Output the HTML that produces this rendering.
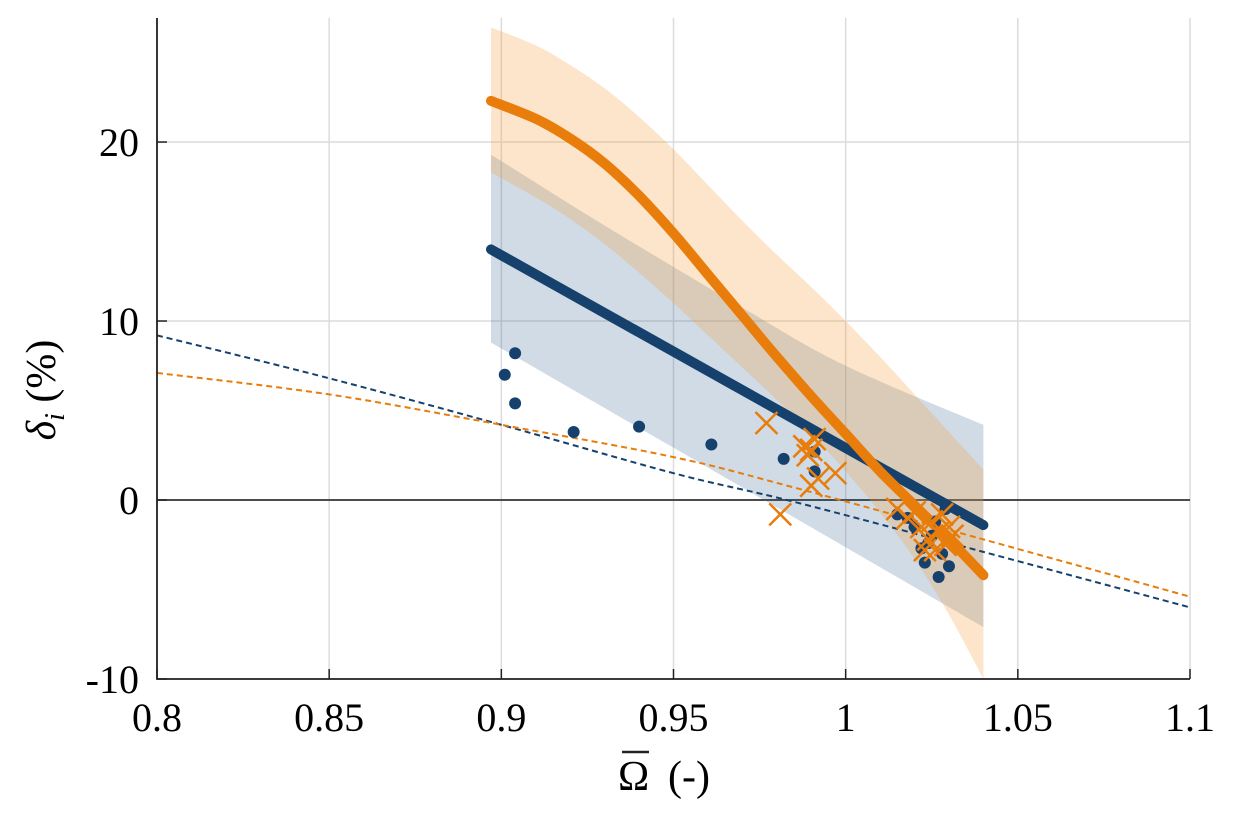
<!DOCTYPE html>
<html><head><meta charset="utf-8"><style>
html,body{margin:0;padding:0;background:#fff;}
svg{display:block;font-family:"Liberation Serif","DejaVu Serif",serif;}
</style></head><body>
<svg id="chart" width="1233" height="821" viewBox="0 0 1233 821" xmlns="http://www.w3.org/2000/svg">
<g id="grid"></g>
<g id="bands"></g>
<g id="lines"></g>
<g id="marks"></g>
<g id="axes"></g>
<g>
<text x="618" y="790" font-size="42">Ω</text>
<line x1="622" x2="649" y1="752" y2="752" stroke="#222" stroke-width="2.5"/>
<text x="668" y="790" font-size="42">(-)</text>
</g>
<text transform="translate(55,390) rotate(-90)" font-size="42" text-anchor="middle"><tspan font-style="italic">δ</tspan><tspan font-style="italic" font-size="28" dy="9">i</tspan><tspan dy="-9"> (%)</tspan></text>
</svg>
<script>
const xTicks=[0.8,0.85,0.9,0.95,1,1.05,1.1];
const xTickLabels=["0.8","0.85","0.9","0.95","1","1.05","1.1"];
const yTicks=[-10,0,10,20];
const yTickLabels=["-10","0","10","20"];
const orangeX=[0.897,0.91,0.92,0.93,0.94,0.95,0.96,0.97,0.98,0.99,1.0,1.01,1.02,1.03,1.04];
const orangeY=[22.3,21.3,20.2,18.8,17.0,14.9,12.6,10.3,8.0,5.8,3.7,1.6,-0.3,-2.2,-4.2];
const orangeBandX=[0.897,0.91,0.92,0.93,0.94,0.95,0.96,0.97,0.98,0.99,1.0,1.01,1.02,1.03,1.04];
const orangeUpper=[26.4,25.4,24.3,23.0,21.4,19.6,17.6,15.6,13.7,11.9,10.0,8.0,5.9,3.8,1.7];
const orangeLower=[18.3,16.9,15.7,14.3,12.7,11.0,9.2,7.4,5.6,3.7,1.6,-0.7,-3.3,-6.4,-10];
const blueX=[0.897,1.04];
const blueY=[14.0,-1.4];
const blueBandX=[0.897,0.9286,0.9713,1.0,1.04];
const blueUpper=[19.3,15.5,10.6,7.5,4.2];
const blueBandLX=[0.897,0.97,1.04];
const blueLower=[8.8,0.7,-7.1];
const dashX=[0.8,0.85,0.9,0.95,0.985,1.04,1.1];
const blueDashY=[9.2,6.8,4.2,1.5,-0.1,-2.9,-6.0];
const orangeDashY=[7.1,5.9,4.2,2.4,0.7,-2.2,-5.4];
const dotX=[0.901,0.904,0.904,0.921,0.940,0.961,0.982,0.991,0.991,1.015,1.020,1.022,1.023,1.025,1.027,1.028,1.030,1.029,1.026,1.018,1.024];
const dotY=[7.0,8.2,5.4,3.8,4.1,3.1,2.3,2.7,1.6,-0.8,-1.5,-2.7,-3.5,-2.0,-4.3,-3.0,-3.7,-0.5,-1.2,-1.0,-2.4];
const crossX=[0.977,0.981,0.988,0.990,0.991,0.989,0.992,0.997,0.990,1.015,1.018,1.020,1.022,1.024,1.025,1.026,1.027,1.029,1.030,1.031,1.028,1.023];
const crossY=[4.3,-0.8,3.0,2.8,3.4,2.5,1.2,1.5,0.8,-0.5,-1.0,-0.7,-1.5,-2.2,-1.2,-2.8,-1.8,-2.5,-1.5,-2.0,-0.8,-2.8];

const X0=157,X1=1190,Y0=679,Y1=18;
const xMin=0.8,xMax=1.1,yMin=-10,yMax=26.93;
const sx=v=>X0+(v-xMin)/(xMax-xMin)*(X1-X0);
const sy=v=>Y0-(v-yMin)/(yMax-yMin)*(Y0-Y1);
const NS="http://www.w3.org/2000/svg";
function mk(tag,parent,attrs){const e=document.createElementNS(NS,tag);for(const k in attrs)e.setAttribute(k,attrs[k]);document.getElementById(parent).appendChild(e);return e;}
function P(xs,ys){return xs.map((x,i)=>[sx(x),sy(ys[i])]);}
function smooth(p,start){
  let d=start?`M${p[0][0]},${p[0][1]}`:`L${p[0][0]},${p[0][1]}`;
  for(let i=0;i<p.length-1;i++){
    const p0=p[Math.max(0,i-1)],p1=p[i],p2=p[i+1],p3=p[Math.min(p.length-1,i+2)];
    const c1=[p1[0]+(p2[0]-p0[0])/6,p1[1]+(p2[1]-p0[1])/6];
    const c2=[p2[0]-(p3[0]-p1[0])/6,p2[1]-(p3[1]-p1[1])/6];
    d+=`C${c1[0].toFixed(1)},${c1[1].toFixed(1)} ${c2[0].toFixed(1)},${c2[1].toFixed(1)} ${p2[0].toFixed(1)},${p2[1].toFixed(1)}`;
  }
  return d;
}

xTicks.forEach((t,i)=>{
  let g=mk('line','grid',{x1:sx(t),x2:sx(t),y1:Y1,y2:Y0,stroke:'#dcdcdc','stroke-width':1.5});
  
  
  let l=mk('text','axes',{x:sx(t),y:731,'font-size':40,'text-anchor':'middle'});
  
  
  l.textContent=xTickLabels[i];
  let tk=mk('line','axes',{x1:sx(t),x2:sx(t),y1:Y0,y2:Y0-10,stroke:'#222','stroke-width':1.5});
  
  
});
yTicks.forEach((t,i)=>{
  let g=mk('line','grid',{x1:X0,x2:X1,y1:sy(t),y2:sy(t),stroke:t===0?'#333':'#dcdcdc','stroke-width':t===0?1.8:1.5});
  
  
  let l=mk('text','axes',{x:139,y:sy(t)+14,'font-size':40,'text-anchor':'end'});
  
  
  l.textContent=yTickLabels[i];
  let tk=mk('line','axes',{x1:X0,x2:X0+10,y1:sy(t),y2:sy(t),stroke:'#222','stroke-width':1.5});
  
  
});
let ax=mk('path','axes',{d:`M${X0},${Y1}V${Y0}H${X1}`,fill:'none',stroke:'#222','stroke-width':1.8});



let bb=mk('path','bands',{d:smooth(P(blueBandX,blueUpper),true)+smooth(P(blueBandLX,blueLower).reverse(),false)+'Z',fill:'#2a5a8c','fill-opacity':0.22});


let ob=mk('path','bands',{d:smooth(P(orangeBandX,orangeUpper),true)+smooth(P(orangeBandX,orangeLower).reverse(),false)+'Z',fill:'#f5a040','fill-opacity':0.28});



let bd=mk('path','lines',{d:smooth(P(dashX,blueDashY),true),fill:'none',stroke:'#17416d','stroke-width':2,'stroke-dasharray':'6 4'});


let od=mk('path','lines',{d:smooth(P(dashX,orangeDashY),true),fill:'none',stroke:'#e87d0c','stroke-width':2,'stroke-dasharray':'6 4'});


let bl=mk('path','lines',{d:smooth(P(blueX,blueY),true),fill:'none',stroke:'#17416d','stroke-width':10,'stroke-linecap':'round'});


let ol=mk('path','lines',{d:smooth(P(orangeX,orangeY),true),fill:'none',stroke:'#e87d0c','stroke-width':10,'stroke-linecap':'round','stroke-linejoin':'round'});



dotX.forEach((x,i)=>{
  let c=mk('circle','marks',{cx:sx(x),cy:sy(dotY[i]),r:6,fill:'#17416d'});
  
  
});
crossX.forEach((x,i)=>{
  const cx=sx(x),cy=sy(crossY[i]),h=11;
  let p=mk('path','marks',{d:`M${cx-h},${cy-h}L${cx+h},${cy+h}M${cx-h},${cy+h}L${cx+h},${cy-h}`,stroke:'#e87d0c','stroke-width':2.5,fill:'none'});
  
  
});
</script>
</body></html>
